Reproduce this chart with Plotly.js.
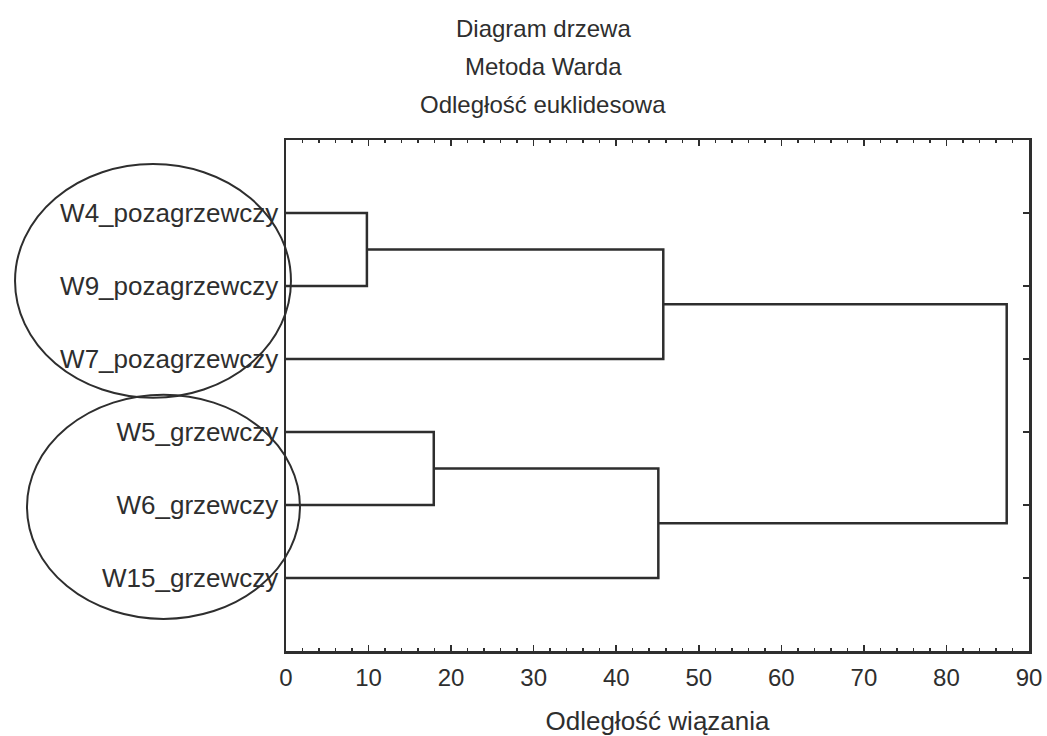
<!DOCTYPE html>
<html>
<head>
<meta charset="utf-8">
<script src="https://cdn.plot.ly/plotly-3.0.1.min.js"></script>
<style>
  html, body { margin: 0; padding: 0; background: #fff; }
  #chart { width: 1047px; height: 736px; }
</style>
</head>
<body>
<div id="chart"></div>
<script>
// Leaves in drawing order (top to bottom)
const leafLabels = [
  "W4_pozagrzewczy",
  "W9_pozagrzewczy",
  "W7_pozagrzewczy",
  "W5_grzewczy",
  "W6_grzewczy",
  "W15_grzewczy"
];

// Ward linkage steps: which two nodes join, and at what linkage distance.
// Nodes 0..5 are leaves; each merge creates node 6, 7, ...
const mergeLeft    = [0, 3, 6, 7, 8];
const mergeRight   = [1, 4, 2, 5, 9];
const mergeHeights = [9.8, 17.9, 45.7, 45.1, 87.3];

const titleLines = ["Diagram drzewa", "Metoda Warda", "Odległość euklidesowa"];
const xAxisTitle = "Odległość wiązania";

// Groups circled around the labels (first and last leaf index of each)
const groupFirst = [0, 3];
const groupLast  = [2, 5];

const ink = "#2e2e2e";

// Node positions: leaves sit at x = 0, y = 1..n
const nodeX = leafLabels.map(() => 0);
const nodeY = leafLabels.map((_, i) => i + 1);

const lx = [], ly = [];
for (let k = 0; k < mergeHeights.length; k++) {
  const a = mergeLeft[k], b = mergeRight[k], h = mergeHeights[k];
  lx.push(nodeX[a], h, h, nodeX[b], null);
  ly.push(nodeY[a], nodeY[a], nodeY[b], nodeY[b], null);
  nodeX.push(h);
  nodeY.push((nodeY[a] + nodeY[b]) / 2);
}

const trace = {
  type: "scatter",
  mode: "lines",
  x: lx,
  y: ly,
  line: { color: ink, width: 2.5 },
  hoverinfo: "skip",
  showlegend: false
};

const font = "Liberation Sans, Arial, sans-serif";

// Hand-drawn style ellipses around each group of labels
const ellipseX = [[-0.3647, 0.0067], [-0.3486, 0.0188]];
const ellipseYPad = [[-0.67, 0.53], [-0.51, 0.56]];
const shapes = groupFirst.map((f, i) => ({
  type: "circle",
  xref: "paper", yref: "y",
  x0: ellipseX[i][0], x1: ellipseX[i][1],
  y0: f + 1 + ellipseYPad[i][0], y1: groupLast[i] + 1 + ellipseYPad[i][1],
  line: { color: ink, width: 2 },
  fillcolor: "rgba(0,0,0,0)",
  layer: "above"
}));

const titleYs = [1.219, 1.143, 1.069];
const annotations = titleLines.map((t, i) => ({
  text: t,
  xref: "paper", yref: "paper",
  x: 0.346, y: titleYs[i],
  xanchor: "center", yanchor: "middle",
  showarrow: false,
  font: { family: font, size: 24, color: ink }
}));

const layout = {
  width: 1047,
  height: 736,
  margin: { l: 286, r: 18, t: 140, b: 85 },
  paper_bgcolor: "#ffffff",
  plot_bgcolor: "#ffffff",
  showlegend: false,
  xaxis: {
    range: [0, 90],
    dtick: 10,
    tick0: 0,
    showgrid: false,
    zeroline: false,
    showline: true,
    linecolor: ink,
    linewidth: 2.5,
    mirror: "ticks",
    ticks: "inside",
    ticklen: 6,
    tickwidth: 1.5,
    tickcolor: ink,
    minor: { dtick: 2, ticks: "inside", ticklen: 3, tickwidth: 1.5, tickcolor: ink },
    tickfont: { family: font, size: 24, color: ink },
    ticklabelstandoff: 4,
    title: { text: xAxisTitle, font: { family: font, size: 26, color: ink }, standoff: 29 },
    fixedrange: true
  },
  yaxis: {
    range: [leafLabels.length + 1, 0],
    tickvals: leafLabels.map((_, i) => i + 1),
    ticktext: leafLabels,
    showgrid: false,
    zeroline: false,
    showline: true,
    linecolor: ink,
    linewidth: 2.5,
    mirror: "ticks",
    ticks: "inside",
    ticklen: 6,
    tickwidth: 1.5,
    tickcolor: ink,
    tickfont: { family: font, size: 26, color: ink },
    ticklabelstandoff: 0,
    fixedrange: true
  },
  shapes: shapes,
  annotations: annotations
};

Plotly.newPlot("chart", [trace], layout, { displayModeBar: false, staticPlot: true });
</script>
</body>
</html>
